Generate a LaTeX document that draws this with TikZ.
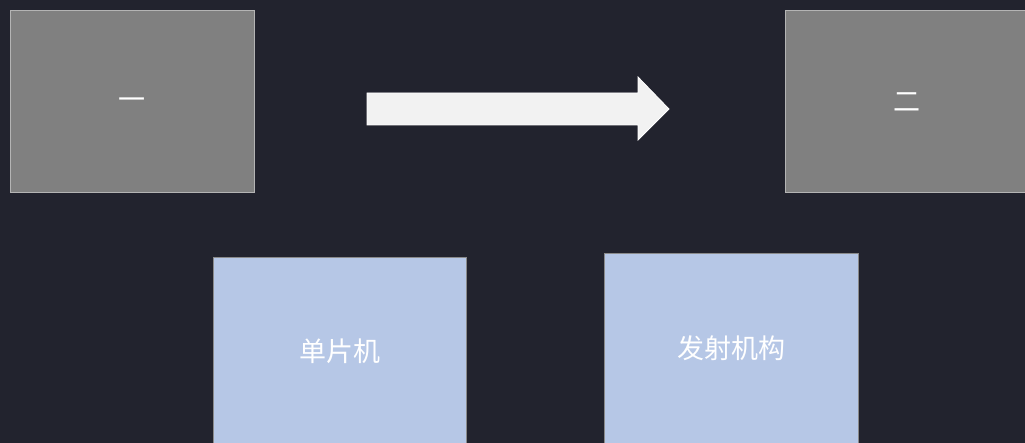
\documentclass[tikz,border=0pt]{standalone}
\usepackage{fontspec}
\newfontfamily\cjk{Noto Sans CJK SC}
\definecolor{bg}{HTML}{22232E}
\definecolor{graybox}{HTML}{808080}
\definecolor{grayedge}{HTML}{B4B4B4}
\definecolor{bluebox}{HTML}{B6C7E6}
\definecolor{blueedge}{HTML}{8A8A8A}
\definecolor{arrowfill}{HTML}{F2F2F2}
\tikzset{
  graynode/.style={draw=grayedge, fill=graybox, line width=1pt, inner sep=0pt, anchor=north west},
  bluenode/.style={draw=blueedge, fill=bluebox, line width=1pt, inner sep=0pt, anchor=north west},
  label/.style={text=white, font=\cjk\fontsize{27}{30}\selectfont},
}
\begin{document}
\begin{tikzpicture}[x=1pt,y=-1pt]
\fill[bg] (0,0) rectangle (1025,443);
\useasboundingbox (0,0) rectangle (1025,443);
\node[graynode, minimum width=244pt, minimum height=182pt] (one) at (10,10) {};
\node[label] (onet) at (132,104) {一};
\node[graynode, minimum width=260pt, minimum height=182pt] (two) at (785,10) {};
\node[label] (twot) at (907,102) {二};
\draw[white, fill=arrowfill, line width=0.8pt] (367,93) -- (638,93) -- (638,77) -- (669,109) -- (638,140) -- (638,125) -- (367,125) -- cycle;
\node[bluenode, minimum width=253pt, minimum height=200pt] (mcu) at (213,257) {};
\node[label] (mcut) at (340,351) {单片机};
\node[bluenode, minimum width=254pt, minimum height=200pt] (launch) at (604,253) {};
\node[label] (launcht) at (731,348) {发射机构};
\end{tikzpicture}
\end{document}
